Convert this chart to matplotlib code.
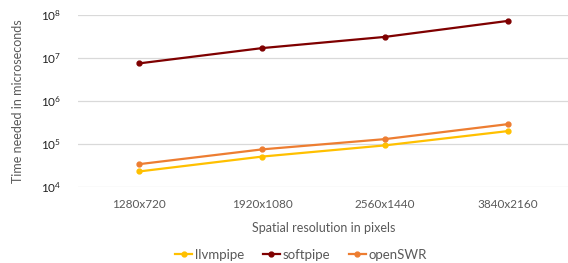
import matplotlib.pyplot as plt

plt.rcParams['font.family'] = ['Lato', 'DejaVu Sans']

resolutions = ['1280x720', '1920x1080', '2560x1440', '3840x2160']
llvmpipe = [2.3e4, 5.1e4, 9.3e4, 2.0e5]
softpipe = [7.5e6, 1.7e7, 3.1e7, 7.3e7]
openswr = [3.4e4, 7.5e4, 1.3e5, 2.9e5]

fig = plt.figure(figsize=(5.68, 2.63), dpi=100)
ax = fig.add_axes([0.137, 0.289, 0.866, 0.654])

x = range(len(resolutions))
ax.plot(x, llvmpipe, color='#FFC000', marker='o', markersize=3.5, linewidth=1.6, label='llvmpipe')
ax.plot(x, softpipe, color='#7F0000', marker='o', markersize=3.5, linewidth=1.6, label='softpipe')
ax.plot(x, openswr, color='#ED7D31', marker='o', markersize=3.5, linewidth=1.6, label='openSWR')

ax.set_yscale('log')
ax.set_ylim(1e4, 1e8)
ax.set_xlim(-0.5, 3.5)
ax.set_yticks([1e4, 1e5, 1e6, 1e7, 1e8])
ax.minorticks_off()
ax.set_xticks(list(x))
ax.set_xticklabels(resolutions)
ax.grid(axis='y', color='#D9D9D9', linewidth=0.9)
ax.set_axisbelow(True)
for s in ax.spines.values():
    s.set_visible(False)
ax.tick_params(axis='both', length=0, labelsize=8.5)
ax.tick_params(axis='x', colors='#595959', pad=9)
ax.tick_params(axis='y', labelcolor='#222222', pad=12)

ax.set_xlabel('Spatial resolution in pixels', color='#595959', fontsize=9, labelpad=8)
ax.set_ylabel('Time needed in microseconds', color='#595959', fontsize=9, labelpad=12)

fig.legend(loc='center', bbox_to_anchor=(0.53, 0.03), ncol=3, frameon=False,
           fontsize=9.5, handlelength=1.3, columnspacing=1.4, handletextpad=0.2,
           labelcolor='#595959')

fig.savefig('out.png', dpi=100)
